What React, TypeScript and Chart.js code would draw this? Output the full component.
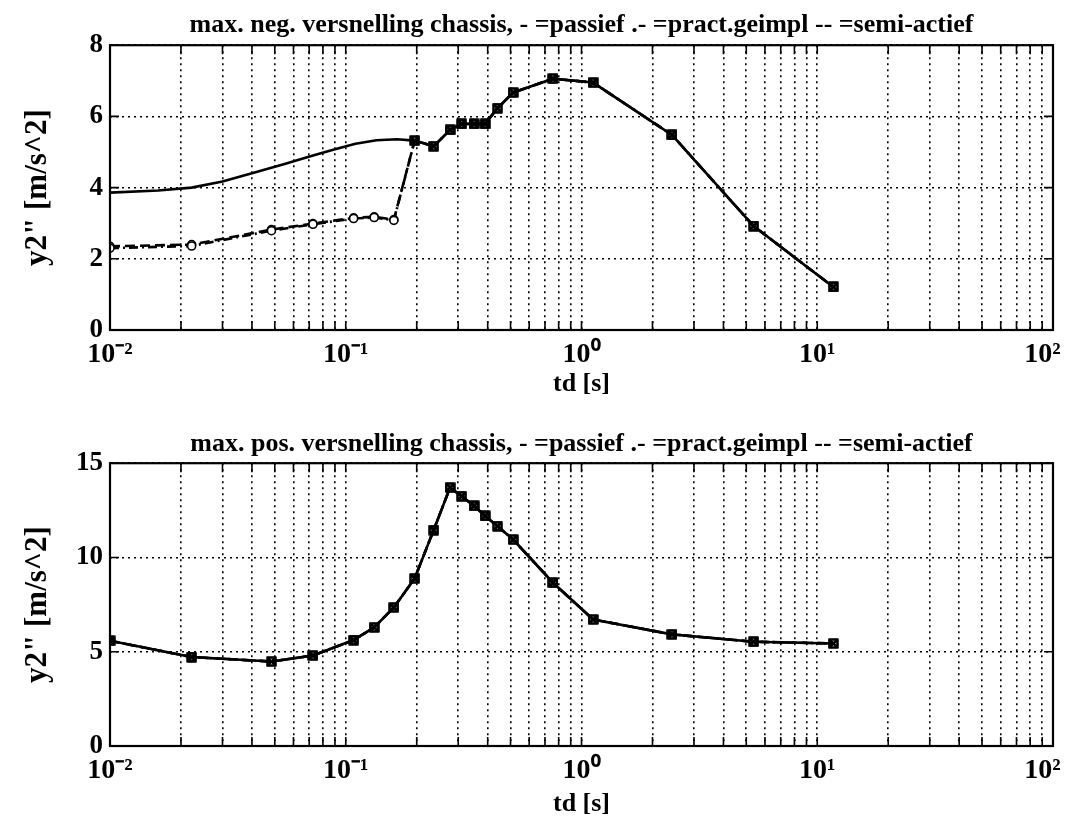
import React, { useEffect, useRef } from "react";
import { Chart, registerables } from "chart.js";

Chart.register(...registerables);

// ---------------- data ----------------
const td = [0.01, 0.0222, 0.0484, 0.0726, 0.108, 0.132, 0.16, 0.196, 0.236, 0.277, 0.31, 0.35, 0.39, 0.44, 0.513, 0.757, 1.12, 2.42, 5.37, 11.7];

// top chart: max. neg. versnelling
const negPassiefTd = [0.01, 0.016, 0.0222, 0.03, 0.04, 0.055, 0.0726, 0.09, 0.11, 0.135, 0.165, 0.196, 0.236, 0.277, 0.31, 0.35, 0.39, 0.44, 0.513, 0.757, 1.12, 2.42, 5.37, 11.7];
const negPassief = [3.86, 3.92, 4.0, 4.17, 4.4, 4.66, 4.9, 5.08, 5.23, 5.33, 5.36, 5.32, 5.16, 5.62, 5.79, 5.79, 5.79, 6.23, 6.67, 7.06, 6.95, 5.48, 2.92, 1.21];
const negPractGeimpl = [2.3, 2.36, 2.79, 2.97, 3.13, 3.16, 3.08, 5.32, 5.16, 5.62, 5.79, 5.79, 5.79, 6.23, 6.67, 7.06, 6.95, 5.48, 2.92, 1.21];
const negSemiActief = [2.35, 2.4, 2.82, 2.99, 3.15, 3.18, 3.1, 5.32, 5.16, 5.62, 5.79, 5.79, 5.79, 6.23, 6.67, 7.06, 6.95, 5.48, 2.92, 1.21];

// bottom chart: max. pos. versnelling
const posPassief = [5.58, 4.72, 4.48, 4.8, 5.62, 6.29, 7.35, 8.89, 11.45, 13.71, 13.25, 12.74, 12.2, 11.66, 10.95, 8.66, 6.71, 5.92, 5.53, 5.44];
const posPractGeimpl = [5.58, 4.72, 4.48, 4.8, 5.62, 6.29, 7.35, 8.89, 11.45, 13.71, 13.25, 12.74, 12.2, 11.66, 10.95, 8.66, 6.71, 5.92, 5.53, 5.44];
const posSemiActief = [5.58, 4.72, 4.48, 4.8, 5.62, 6.29, 7.35, 8.89, 11.45, 13.71, 13.25, 12.74, 12.2, 11.66, 10.95, 8.66, 6.71, 5.92, 5.53, 5.44];

const xTickValues = [
  0.01, 0.02, 0.03, 0.04, 0.05, 0.06, 0.07, 0.08, 0.09,
  0.1, 0.2, 0.3, 0.4, 0.5, 0.6, 0.7, 0.8, 0.9,
  1, 2, 3, 4, 5, 6, 7, 8, 9,
  10, 20, 30, 40, 50, 60, 70, 80, 90,
  100,
];
const xDecadeLabels: Record<string, string> = {
  "-2": "10\u207B\u00B2",
  "-1": "10\u207B\u00B9",
  "0": "10\u2070",
  "1": "10\u00B9",
  "2": "10\u00B2   ",
};

const titleNeg = "max. neg. versnelling chassis, - =passief .- =pract.geimpl -- =semi-actief";
const titlePos = "max. pos. versnelling chassis, - =passief .- =pract.geimpl -- =semi-actief";
const xTitle = "td [s]";
const yTitle = 'y2" [m/s^2]';

// ---------------- styling ----------------
const serif = "'Liberation Serif', 'Times New Roman', Times, serif";

function makeMarker(): HTMLCanvasElement {
  const c = document.createElement("canvas");
  c.width = 11;
  c.height = 11;
  const g = c.getContext("2d")!;
  g.strokeStyle = "#000";
  g.lineWidth = 1.8;
  g.strokeRect(1.5, 1.5, 8, 8);
  g.beginPath();
  g.moveTo(2, 2);
  g.lineTo(9, 9);
  g.moveTo(9, 2);
  g.lineTo(2, 9);
  g.stroke();
  return c;
}

const framePlugin = {
  id: "frame",
  afterDraw(chart: any) {
    const { ctx, chartArea, scales } = chart;
    const { left, right, top, bottom } = chartArea;
    ctx.save();
    ctx.setLineDash([]);
    ctx.strokeStyle = "#000";
    ctx.lineWidth = 2.2;
    ctx.strokeRect(left, top, right - left, bottom - top);
    ctx.lineWidth = 1.6;
    const tl = 9;
    ctx.beginPath();
    scales.x.ticks.forEach((t: any) => {
      const px = scales.x.getPixelForValue(t.value);
      ctx.moveTo(px, bottom);
      ctx.lineTo(px, bottom - tl);
      ctx.moveTo(px, top);
      ctx.lineTo(px, top + tl);
    });
    scales.y.ticks.forEach((t: any) => {
      const py = scales.y.getPixelForValue(t.value);
      ctx.moveTo(left, py);
      ctx.lineTo(left + tl, py);
      ctx.moveTo(right, py);
      ctx.lineTo(right - tl, py);
    });
    ctx.stroke();
    ctx.restore();
  },
};

interface Cfg {
  title: string;
  titlePad: { top: number; bottom: number };
  yMax: number;
  yStep: number;
  xTitlePadBottom: number;
  layoutBottom: number;
}

function buildOptions(c: Cfg): any {
  const gridCommon = { color: "#000", lineWidth: 1.6, drawTicks: false };
  const borderCommon = { display: false, dash: [2, 4] };
  return {
    animation: false,
    responsive: false,
    maintainAspectRatio: false,
    layout: { padding: { left: 0, right: 16, top: 0, bottom: c.layoutBottom }, autoPadding: false },
    plugins: {
      legend: { display: false },
      tooltip: { enabled: false },
      title: {
        display: true,
        text: c.title,
        fullSize: false,
        color: "#000",
        font: { family: serif, size: 26, weight: "bold" },
        padding: c.titlePad,
      },
    },
    scales: {
      x: {
        type: "logarithmic",
        min: 0.01,
        max: 100,
        afterBuildTicks: (s: any) => {
          s.ticks = xTickValues.map((v) => ({ value: v }));
        },
        afterFit: (s: any) => {
          s.height = 75;
          s.paddingLeft = 0;
          s.paddingRight = 0;
        },
        ticks: {
          autoSkip: false,
          maxRotation: 0,
          minRotation: 0,
          padding: 8,
          color: "#000",
          font: { family: serif, size: 28, weight: "bold" },
          callback: (v: any) => {
            const l = Math.log10(Number(v));
            const r = Math.round(l);
            if (Math.abs(l - r) < 1e-6) return xDecadeLabels[String(r)] ?? "";
            return "";
          },
        },
        grid: gridCommon,
        border: borderCommon,
        title: {
          display: true,
          text: xTitle,
          color: "#000",
          font: { family: serif, size: 26, weight: "bold" },
          padding: { top: 0, bottom: c.xTitlePadBottom },
        },
      },
      y: {
        min: 0,
        max: c.yMax,
        afterFit: (s: any) => {
          s.width = 110;
          s.paddingTop = 0;
          s.paddingBottom = 0;
        },
        ticks: {
          stepSize: c.yStep,
          padding: 7,
          color: "#000",
          font: { family: serif, size: 27, weight: "bold" },
        },
        grid: gridCommon,
        border: borderCommon,
        title: {
          display: true,
          text: yTitle,
          color: "#000",
          font: { family: serif, size: 31, weight: "bold" },
          padding: { top: 19, bottom: 0 },
        },
      },
    },
  };
}

function pts(xs: number[], ys: number[]) {
  return xs.map((x, i) => ({ x, y: ys[i] }));
}

export default function App() {
  const topRef = useRef<HTMLCanvasElement>(null);
  const botRef = useRef<HTMLCanvasElement>(null);

  useEffect(() => {
    const marker = makeMarker();
    const leftCut = 0.19;

    const solidStyle = (xs: number[]) => ({
      borderColor: "#000",
      borderWidth: 2.6,
      pointStyle: marker,
      pointRadius: (ctx: any) => (xs[ctx.dataIndex] < leftCut ? 0 : 5),
      pointBorderColor: "#000",
      pointBackgroundColor: "#fff",
      fill: false,
      tension: 0,
    });
    const markedStyle = (xs: number[], dash: number[]) => ({
      borderColor: "#000",
      borderWidth: 2.6,
      borderDash: dash,
      pointStyle: (ctx: any) => (xs[ctx.dataIndex] < leftCut ? "circle" : marker),
      pointRadius: (ctx: any) => (xs[ctx.dataIndex] < leftCut ? 4 : 5),
      pointBorderColor: "#000",
      pointBorderWidth: 1.6,
      pointBackgroundColor: "#fff",
      fill: false,
      tension: 0,
    });

    const top = new Chart(topRef.current!, {
      type: "line",
      data: {
        datasets: [
          { label: "passief", data: pts(negPassiefTd, negPassief), ...solidStyle(negPassiefTd) },
          { label: "pract.geimpl", data: pts(td, negPractGeimpl), ...markedStyle(td, [9, 4, 2, 4]) },
          { label: "semi-actief", data: pts(td, negSemiActief), ...markedStyle(td, [10, 5]) },
        ],
      } as any,
      options: buildOptions({
        title: titleNeg,
        titlePad: { top: 10, bottom: 4 },
        yMax: 8,
        yStep: 2,
        xTitlePadBottom: 5,
        layoutBottom: 6,
      }),
      plugins: [framePlugin],
    });

    const bot = new Chart(botRef.current!, {
      type: "line",
      data: {
        datasets: [
          { label: "passief", data: pts(td, posPassief), ...markedStyle(td, []), pointStyle: marker, pointRadius: 5 },
          { label: "pract.geimpl", data: pts(td, posPractGeimpl), ...markedStyle(td, [9, 4, 2, 4]), pointStyle: marker, pointRadius: 5 },
          { label: "semi-actief", data: pts(td, posSemiActief), ...markedStyle(td, [10, 5]), pointStyle: marker, pointRadius: 5 },
        ],
      } as any,
      options: buildOptions({
        title: titlePos,
        titlePad: { top: 18, bottom: 3 },
        yMax: 15,
        yStep: 5,
        xTitlePadBottom: 1,
        layoutBottom: 1,
      }),
      plugins: [framePlugin],
    });

    return () => {
      top.destroy();
      bot.destroy();
    };
  }, []);

  return (
    <div style={{ position: "fixed", left: 0, top: 0, width: 1069, height: 822, background: "#fff" }}>
      <canvas ref={topRef} width={1069} height={411} style={{ display: "block", width: 1069, height: 411 }} />
      <canvas ref={botRef} width={1069} height={411} style={{ display: "block", width: 1069, height: 411 }} />
    </div>
  );
}
